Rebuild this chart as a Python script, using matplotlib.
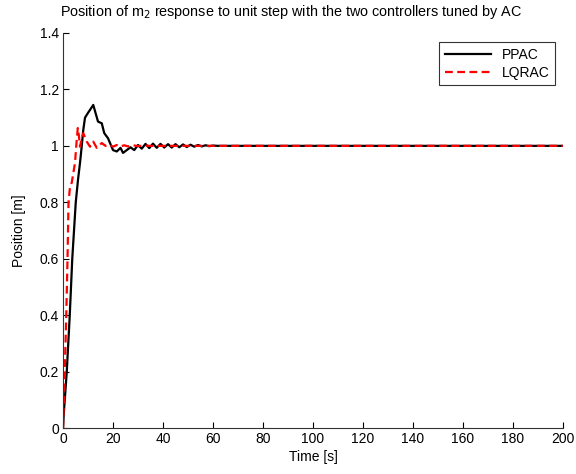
import matplotlib
matplotlib.use('Agg')
import matplotlib.pyplot as plt

plt.rcParams['font.family'] = ['Liberation Sans', 'DejaVu Sans']
plt.rcParams['font.size'] = 10

# black curve (PPAC)
t_ppac = [0, 0.3, 1.5, 2.7, 3.7, 4.4, 5.1, 6.0, 6.8, 7.5, 8.1, 8.8, 10, 11, 12.1, 13, 14,
          15.5, 16.5, 18, 20, 21.5, 23, 24, 25.5, 27, 28.5, 30, 31.5, 33, 34.5, 36, 37.5,
          39, 40.5, 42, 43.5, 45, 46.5, 48, 49.5, 51, 52.5, 54, 55.5, 57, 58.5, 60, 62, 200]
y_ppac = [0, 0.05, 0.2, 0.4, 0.6, 0.7, 0.8, 0.88, 0.94, 1.0, 1.056, 1.10, 1.117, 1.13, 1.145,
          1.117, 1.086, 1.08, 1.045, 1.027, 0.985, 0.98, 0.993, 0.975, 0.985, 0.995, 0.985,
          1.003, 0.99, 1.007, 0.992, 1.008, 0.993, 1.007, 0.994, 1.006, 0.994, 1.006, 0.995,
          1.005, 0.996, 1.004, 0.997, 1.003, 0.998, 1.002, 0.999, 1.001, 1.0, 1.0]

# red dashed curve (LQRAC)
t_lqrac = [0, 0.7, 1.3, 1.8, 2.2, 2.8, 3.5, 4.8, 5.3, 5.9, 6.3, 6.8, 7.3, 8.1, 9.5, 10.8,
           12.1, 13.5, 15.5, 17, 18.5, 20, 21.5, 23, 24.5, 26, 28, 30, 32, 35, 200]
y_lqrac = [0, 0.2, 0.4, 0.6, 0.8, 0.855, 0.87, 0.94, 1.0, 1.063, 1.04, 0.997, 1.02, 1.045,
           1.015, 0.997, 1.015, 0.993, 1.01, 1.0, 1.004, 0.997, 1.003, 0.998, 1.002, 0.998,
           1.002, 0.999, 1.001, 1.0, 1.0]

fig = plt.figure(figsize=(5.76, 4.74), dpi=100)
ax = fig.add_axes([0.1094, 0.097, 0.868, 0.8334])

ax.plot(t_ppac, y_ppac, color='black', linewidth=1.6, label='PPAC')
ax.plot(t_lqrac, y_lqrac, color='red', linestyle=(0, (3.5, 2)), linewidth=1.6, label='LQRAC')

ax.set_xlim(0, 200)
ax.set_ylim(0, 1.4)
ax.set_xticks(range(0, 201, 20))
ax.set_yticks([0, 0.2, 0.4, 0.6, 0.8, 1, 1.2, 1.4])
ax.set_yticklabels(['0', '0.2', '0.4', '0.6', '0.8', '1', '1.2', '1.4'])
ax.tick_params(direction='in', length=4, width=0.8, pad=3)
ax.spines['top'].set_visible(False)
ax.spines['right'].set_visible(False)
for s in ['left', 'bottom']:
    ax.spines[s].set_linewidth(0.8)
    ax.spines[s].set_color('#333333')

ax.set_xlabel('Time [s]', labelpad=3)
ax.set_ylabel('Position [m]', labelpad=10)
ax.set_title('Position of m$_2$ response to unit step with the two controllers tuned by AC',
             fontsize=10.4, x=0.456, pad=12)

leg = ax.legend(loc='upper right', bbox_to_anchor=(0.984, 0.977), borderaxespad=0,
                fancybox=False, edgecolor='black', handlelength=3.3, fontsize=10,
                borderpad=0.4, labelspacing=0.3)
leg.get_frame().set_linewidth(0.8)

fig.savefig('out.png', dpi=100)
